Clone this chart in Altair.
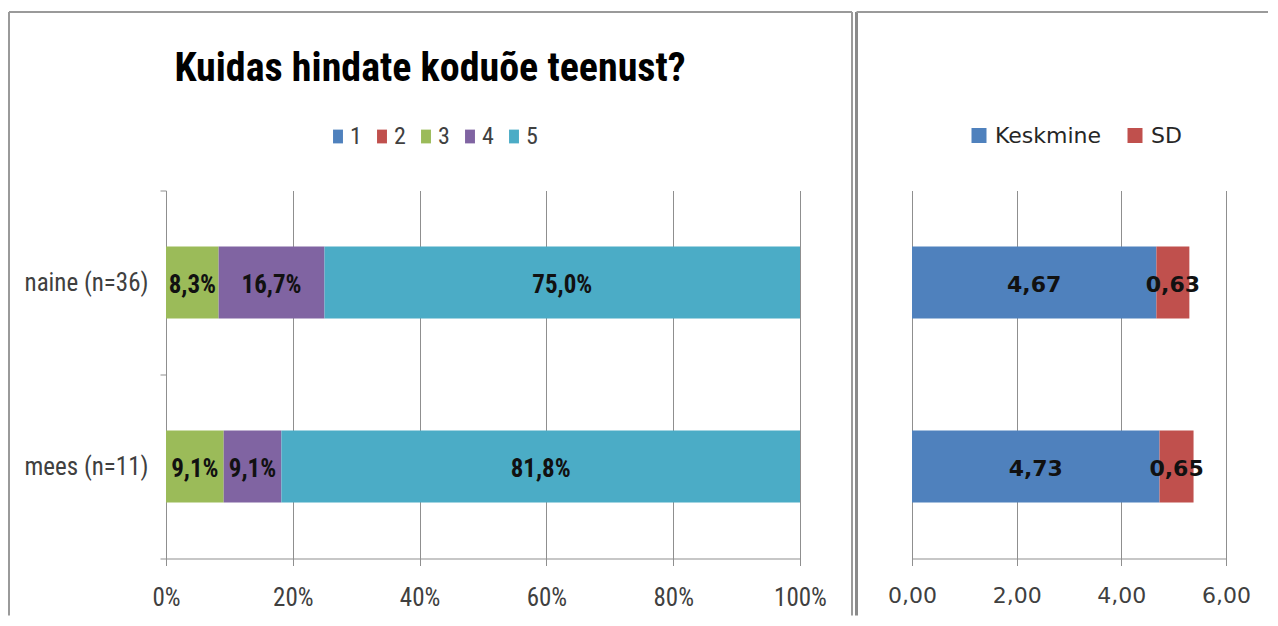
import altair as alt
import pandas as pd

# ---------------- data ----------------
groups = ["naine (n=36)", "mees (n=11)"]
ratings = ["1", "2", "3", "4", "5"]
naine_pct = [0.0, 0.0, 8.3, 16.7, 75.0]
mees_pct = [0.0, 0.0, 9.1, 9.1, 81.8]
stat_names = ["Keskmine", "SD"]
naine_stats = [4.67, 0.63]
mees_stats = [4.73, 0.65]
pct_ticks = [0, 20, 40, 60, 80, 100]
stat_ticks = [0, 2, 4, 6]
title_text = "Kuidas hindate koduõe teenust?"

rating_colors = ["#4F81BD", "#C0504D", "#9BBB59", "#8064A2", "#4BACC6"]
stat_colors = ["#4F81BD", "#C0504D"]

NARROW = "Liberation Sans Narrow, Arial Narrow, Roboto Condensed, Open Sans"
WIDE = "DejaVu Sans"
GRID = "#8f8f8f"
FRAME = "#9a9a9a"

rows = []
for g, vals in zip(groups, [naine_pct, mees_pct]):
    for i, (r, v) in enumerate(zip(ratings, vals)):
        rows.append({"group": g, "rating": r, "rank": i, "value": v})
pct_df = pd.DataFrame(rows)

srows = []
for g, vals in zip(groups, [naine_stats, mees_stats]):
    for i, (s, v) in enumerate(zip(stat_names, vals)):
        srows.append({"group": g, "stat": s, "rank": i, "value": v})
stat_df = pd.DataFrame(srows)

one = pd.DataFrame({"k": [0]})

H = 368
LW, RW = 634, 314
BAR_BAND = 0.39


def vrule(x, y1, y2, w=2, color=FRAME):
    return alt.Chart(one).mark_rule(strokeWidth=w, color=color).encode(
        x=alt.value(x), y=alt.value(y1), y2=alt.value(y2))


def hrule(x1, x2, y, w=2, color=FRAME):
    return alt.Chart(one).mark_rule(strokeWidth=w, color=color).encode(
        x=alt.value(x1), x2=alt.value(x2), y=alt.value(y))


yscale = alt.Scale(paddingInner=0, paddingOuter=0)

# ---------------- left panel ----------------
y_left = alt.Y("group:N", sort=groups, scale=yscale,
               axis=alt.Axis(title=None, tickBand="extent", grid=False,
                             labelFont=NARROW, labelFontSize=25,
                             labelColor="#404040", labelPadding=12,
                             tickSize=6, tickColor=GRID, domainColor=GRID))
x_left = alt.X("value:Q", stack="zero",
               scale=alt.Scale(domain=[0, 100], nice=False),
               axis=alt.Axis(title=None, values=pct_ticks,
                             labelExpr="datum.value + '%'",
                             labelFlush=False,
                             grid=True, gridColor=GRID, tickColor=GRID,
                             domainColor=GRID, tickSize=7,
                             labelFont=NARROW, labelFontSize=25,
                             labelColor="#404040", labelPadding=20))

bars_left = alt.Chart(pct_df).mark_bar(height={"band": BAR_BAND}).encode(
    y=y_left,
    x=x_left,
    color=alt.Color("rating:N", sort=ratings,
                    scale=alt.Scale(domain=ratings, range=rating_colors),
                    legend=alt.Legend(title=None, orient="none",
                                      direction="horizontal",
                                      legendX=160, legendY=-66,
                                      symbolType="M-0.72,-1H0.72V1H-0.72Z",
                                      symbolSize=190,
                                      symbolStrokeWidth=0,
                                      labelFont=NARROW, labelFontSize=24,
                                      labelColor="#404040", labelOffset=0,
                                      columnPadding=8, padding=0)),
    order=alt.Order("rank:Q"),
)

text_left = alt.Chart(pct_df).transform_window(
    cum="sum(value)", groupby=["group"], sort=[{"field": "rank"}],
    frame=[None, 0]
).transform_calculate(
    mid="datum.cum - datum.value / 2",
    label="replace(format(datum.value, '.1f'), '.', ',') + '%'"
).transform_filter("datum.value > 0").mark_text(
    font=NARROW, fontSize=25, fontWeight="bold", color="#111111", dy=2
).encode(
    y=alt.Y("group:N", sort=groups, scale=yscale),
    x=alt.X("mid:Q"),
    text="label:N",
)

left = alt.layer(
    vrule(-157, -178.5, 425), hrule(-157, 686, -178.5), vrule(686, -178.5, 425),
    bars_left, text_left
).properties(
    width=LW, height=H,
    title=alt.TitleParams(title_text, font=NARROW, fontSize=40,
                          fontWeight="bold", color="#000000",
                          anchor="middle", dx=-53, offset=-78),
)

# ---------------- right panel ----------------
y_right = alt.Y("group:N", sort=groups, scale=yscale, axis=None)
x_right = alt.X("value:Q", stack="zero",
                scale=alt.Scale(domain=[0, 6], nice=False),
                axis=alt.Axis(title=None, values=stat_ticks,
                              labelExpr="replace(format(datum.value, '.2f'), '.', ',')",
                              labelFlush=False,
                              grid=True, gridColor=GRID, tickColor=GRID,
                              domainColor=GRID, tickSize=7,
                              labelFont=WIDE, labelFontSize=22,
                              labelColor="#404040", labelPadding=20))

bars_right = alt.Chart(stat_df).mark_bar(height={"band": BAR_BAND}).encode(
    y=y_right,
    x=x_right,
    color=alt.Color("stat:N", sort=stat_names,
                    scale=alt.Scale(domain=stat_names, range=stat_colors),
                    legend=alt.Legend(title=None, orient="none",
                                      direction="horizontal",
                                      legendX=56, legendY=-66,
                                      symbolType="square", symbolSize=225,
                                      symbolStrokeWidth=0,
                                      labelFont=WIDE, labelFontSize=22,
                                      labelColor="#262626", labelOffset=5,
                                      columnPadding=22, padding=0)),
    order=alt.Order("rank:Q"),
)

text_right = alt.Chart(stat_df).transform_window(
    cum="sum(value)", groupby=["group"], sort=[{"field": "rank"}],
    frame=[None, 0]
).transform_calculate(
    mid="datum.cum - datum.value / 2",
    label="replace(format(datum.value, '.2f'), '.', ',')"
).mark_text(
    font=WIDE, fontSize=22, fontWeight="bold", color="#111111", dy=2
).encode(
    y=alt.Y("group:N", sort=groups, scale=yscale),
    x=alt.X("mid:Q"),
    text="label:N",
)

right = alt.layer(
    vrule(-55.5, -178.5, 425, w=3, color="#8a8a8a"), hrule(-55.5, 356, -178.5),
    bars_right, text_right
).properties(width=RW, height=H)

chart = alt.hconcat(left, right, spacing=112, bounds="flush").resolve_scale(
    color="independent", y="independent", x="independent"
).properties(
    padding={"left": 0, "top": 2.5, "right": 0, "bottom": 0},
).configure_view(stroke=None)

chart.save("out.html", embed_options={"renderer": "svg", "actions": False})
